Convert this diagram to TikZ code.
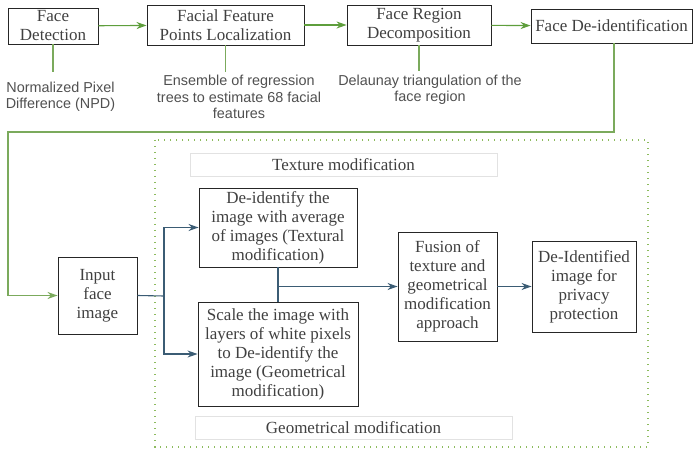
\documentclass[tikz,border=0pt]{standalone}
\usepackage{fontspec}
\setmainfont{Liberation Serif}
\newfontfamily\notefont{Liberation Sans}
\usepackage{xcolor}
\usetikzlibrary{positioning,calc,arrows.meta}

\definecolor{stepgreen}{HTML}{5E9E3C}
\definecolor{loopgreen}{HTML}{7BAA5C}
\definecolor{dotgreen}{HTML}{8DBB5E}
\definecolor{flowblue}{HTML}{3B5C74}
\definecolor{textgray}{HTML}{404040}
\definecolor{notegray}{HTML}{505050}
\definecolor{labelgray}{HTML}{E2E2E2}

\begin{document}
\begin{tikzpicture}[x=1pt,y=-1pt,
	box/.style={draw=black!85,line width=0.9pt,inner sep=0pt,align=center,text=textgray,font=\fontsize{17}{19}\selectfont},
	note/.style={align=center,text=notegray,inner sep=0pt,font=\notefont\fontsize{14.4}{16.5}\selectfont},
	tag/.style={draw=labelgray,line width=0.9pt,inner sep=0pt,text=textgray,font=\fontsize{17}{19}\selectfont},
	garrow/.style={draw=stepgreen,line width=1.1pt,-{Stealth[length=10pt,width=7pt]}},
	gline/.style={draw=loopgreen,line width=1.2pt},
	bline/.style={draw=flowblue,line width=1.1pt},
	barrow/.style={bline,-{Stealth[length=10pt,width=7pt]}}]
	\useasboundingbox (0,0) rectangle (696,449);
	
	% pipeline
	\node[box,minimum width=90pt,minimum height=36pt] (fd) at (53,26) {Face\\Detection};
	\node[box,minimum width=157pt,minimum height=40pt] (ffpl) at (225.5,25) {Facial Feature\\Points Localization};
	\node[box,minimum width=144pt,minimum height=40pt] (frd) at (419,25) {Face Region\\Decomposition};
	\node[box,minimum width=161pt,minimum height=34pt] (fdi) at (611.5,26) {Face De-identification};
	
	\draw[garrow] (fd) -- (ffpl);
	\draw[garrow] (ffpl) -- (frd);
	\draw[garrow] (frd) -- (fdi);
	
	% methods
	\node[note] (fdnote) at (60.5,97) {Normalized Pixel\\Difference (NPD)};
	\node[note] (ffplnote) at (239,97) {Ensemble of regression\\trees to estimate 68 facial\\features};
	\node[note] (frdnote) at (430,90) {Delaunay triangulation of the\\face region};
	\coordinate (fdtip) at (53,72);
	\coordinate (ffpltip) at (225.5,72);
	\coordinate (frdtip) at (419,71);
	\draw[gline] (fd.south) -- (fdtip);
	\draw[gline] (ffpl.south) -- (ffpltip);
	\draw[gline] (frd.south) -- (frdtip);
	
	% de-identification stage
	\draw[draw=dotgreen,line width=1.4pt,dash pattern=on 1.4pt off 4.6pt] (155,140) rectangle (648,447);
	\node[tag,minimum width=307pt,minimum height=23pt] (texlab) at (343.5,164.5) {Texture modification};
	\node[tag,minimum width=317pt,minimum height=23pt] (geolab) at (353.5,427.5) {Geometrical modification};
	
	\node[box,minimum width=79pt,minimum height=77pt] (input) at (97.5,295.5) {Input\\face\\image};
	\node[box,minimum width=158pt,minimum height=79pt] (deid) at (278,227.5) {De-identify the\\image with average\\of images (Textural\\modification)};
	\node[box,minimum width=160pt,minimum height=104pt] (scale) at (278,354) {Scale the image with\\layers of white pixels\\to De-identify the\\image (Geometrical\\modification)};
	\node[box,minimum width=99pt,minimum height=109pt] (fusion) at (447.5,286.5) {Fusion of\\texture and\\geometrical\\modification\\approach};
	\node[box,minimum width=104pt,minimum height=91pt] (out) at (584,286.5) {De-Identified\\image for\\privacy\\protection};
	
	% feedback into the input
	\coordinate (bend) at (8,132);
	\draw[gline,-{Stealth[length=10pt,width=7pt]}] ([xshift=2.5pt]fdi.south) |- (bend) |- (input.west);
	
	% split and merge
	\coordinate (split) at (164,296);
	\coordinate (merge) at (deid.south |- fusion.west);
	\draw[bline] (input.east) -- (split);
	\draw[barrow] (split) |- (deid.west);
	\draw[barrow] (split) |- (scale.west);
	\draw[bline] (deid.south) -- (scale.north);
	\draw[barrow] (merge) -- (fusion.west);
	\draw[barrow] (fusion) -- (out);
\end{tikzpicture}
\end{document}
